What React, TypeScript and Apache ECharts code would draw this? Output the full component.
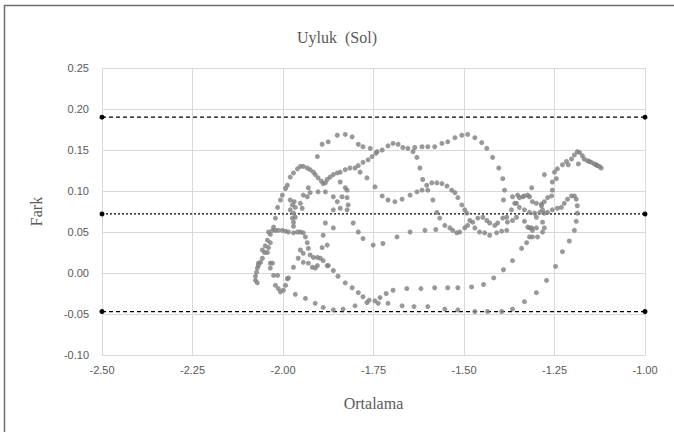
import React, { useEffect, useRef } from 'react';
import * as echarts from 'echarts';

type P = [number, number];

const xTickValues = [-2.5, -2.25, -2.0, -1.75, -1.5, -1.25, -1.0];
const yTickValues = [-0.1, -0.05, 0, 0.05, 0.1, 0.15, 0.2, 0.25];

const upperLoA = 0.19;
const meanDiff = 0.072;
const lowerLoA = -0.047;

const leftRise: P[] = [
  [-2.076, -0.009], [-2.071, -0.012], [-2.076, -0.004], [-2.073, 0.001], [-2.071, 0.006], [-2.068, 0.009],
  [-2.068, 0.012], [-2.062, 0.013], [-2.057, 0.018], [-2.051, 0.025], [-2.049, 0.033], [-2.043, 0.040],
  [-2.035, 0.047], [-2.026, 0.056], [-2.021, 0.067], [-2.015, 0.080], [-2.007, 0.089], [-2.002, 0.095],
  [-1.993, 0.103], [-1.988, 0.107], [-1.980, 0.117], [-1.971, 0.122], [-1.960, 0.127], [-1.952, 0.130],
  [-1.944, 0.130], [-1.933, 0.128], [-1.925, 0.126], [-1.916, 0.123], [-1.911, 0.120], [-1.903, 0.116],
  [-1.894, 0.112], [-1.889, 0.109], [-1.883, 0.110], [-1.878, 0.114], [-1.870, 0.117], [-1.861, 0.120],
  [-1.850, 0.122], [-1.842, 0.123], [-1.828, 0.126], [-1.815, 0.128], [-1.801, 0.128], [-1.792, 0.131],
  [-1.779, 0.135], [-1.765, 0.138], [-1.754, 0.142], [-1.743, 0.146],
];

const topArc: P[] = [
  [-1.905, 0.142], [-1.892, 0.157], [-1.875, 0.160], [-1.850, 0.168], [-1.828, 0.169], [-1.809, 0.166],
  [-1.792, 0.157], [-1.779, 0.154], [-1.759, 0.152], [-1.740, 0.148], [-1.726, 0.150], [-1.710, 0.155],
  [-1.696, 0.158], [-1.682, 0.157], [-1.669, 0.153], [-1.655, 0.152], [-1.641, 0.148], [-1.636, 0.153],
  [-1.616, 0.154], [-1.600, 0.154], [-1.581, 0.154], [-1.561, 0.158], [-1.545, 0.160], [-1.525, 0.165],
  [-1.506, 0.168], [-1.490, 0.169], [-1.470, 0.165], [-1.451, 0.159], [-1.437, 0.152], [-1.421, 0.141],
  [-1.404, 0.128], [-1.393, 0.115], [-1.388, 0.101], [-1.391, 0.089],
];

const topBranch: P[] = [
  [-1.630, 0.141], [-1.622, 0.128], [-1.614, 0.114], [-1.600, 0.101], [-1.586, 0.089], [-1.575, 0.074],
  [-1.567, 0.067],
];

const midArc: P[] = [
  [-1.787, 0.123], [-1.768, 0.116], [-1.746, 0.105], [-1.726, 0.094], [-1.710, 0.089], [-1.691, 0.087],
  [-1.671, 0.090], [-1.649, 0.095], [-1.630, 0.099], [-1.616, 0.101], [-1.603, 0.107], [-1.589, 0.110],
  [-1.575, 0.110], [-1.561, 0.109], [-1.547, 0.106], [-1.534, 0.101], [-1.525, 0.098], [-1.517, 0.092],
  [-1.506, 0.083], [-1.498, 0.077], [-1.492, 0.073], [-1.484, 0.064], [-1.470, 0.055],
];

const descArc: P[] = [
  [-1.842, 0.111], [-1.828, 0.104], [-1.823, 0.101], [-1.823, 0.092], [-1.820, 0.083], [-1.823, 0.077],
  [-1.806, 0.061], [-1.792, 0.050], [-1.779, 0.042], [-1.751, 0.034], [-1.724, 0.036], [-1.685, 0.044],
  [-1.649, 0.050], [-1.608, 0.052], [-1.578, 0.053],
];

const wiggle: P[] = [
  [-1.553, 0.058], [-1.539, 0.055], [-1.531, 0.052], [-1.520, 0.049], [-1.512, 0.050], [-1.498, 0.055],
  [-1.490, 0.058], [-1.476, 0.062], [-1.462, 0.067], [-1.448, 0.068], [-1.437, 0.064], [-1.429, 0.061],
  [-1.415, 0.058], [-1.407, 0.061], [-1.393, 0.067], [-1.380, 0.062], [-1.366, 0.064], [-1.355, 0.068],
  [-1.333, 0.063], [-1.313, 0.055],
];

const wiggleLow: P[] = [
  [-1.457, 0.050], [-1.443, 0.049], [-1.429, 0.046], [-1.410, 0.049], [-1.396, 0.051], [-1.382, 0.052],
];

const lowArc: P[] = [
  [-1.875, 0.009], [-1.861, 0.003], [-1.848, -0.004], [-1.828, -0.012], [-1.809, -0.018], [-1.792, -0.024],
  [-1.779, -0.029], [-1.762, -0.033], [-1.746, -0.034], [-1.732, -0.030], [-1.715, -0.025], [-1.696, -0.021],
  [-1.658, -0.019], [-1.619, -0.019], [-1.581, -0.018], [-1.545, -0.018], [-1.517, -0.018], [-1.479, -0.017],
  [-1.446, -0.014], [-1.418, -0.006], [-1.391, 0.004], [-1.366, 0.015], [-1.341, 0.030], [-1.327, 0.037],
  [-1.319, 0.044], [-1.311, 0.052], [-1.300, 0.068], [-1.283, 0.077],
];

const bottomArc: P[] = [
  [-1.966, -0.026], [-1.938, -0.031], [-1.911, -0.037], [-1.889, -0.042], [-1.861, -0.045], [-1.834, -0.044],
  [-1.801, -0.040], [-1.768, -0.036], [-1.737, -0.037], [-1.710, -0.037], [-1.671, -0.040], [-1.638, -0.041],
  [-1.600, -0.041], [-1.553, -0.044], [-1.517, -0.045], [-1.470, -0.047], [-1.435, -0.047], [-1.396, -0.047],
  [-1.366, -0.044], [-1.333, -0.035], [-1.300, -0.024], [-1.272, -0.009], [-1.247, 0.008], [-1.228, 0.026],
  [-1.209, 0.039], [-1.195, 0.052], [-1.190, 0.063], [-1.187, 0.073], [-1.187, 0.082], [-1.190, 0.090],
  [-1.195, 0.094], [-1.203, 0.094], [-1.214, 0.090], [-1.223, 0.085], [-1.231, 0.080], [-1.242, 0.079],
  [-1.256, 0.077], [-1.269, 0.074], [-1.278, 0.073], [-1.291, 0.074],
];

const leftLoop: P[] = [
  [-2.035, 0.037], [-2.040, 0.031], [-2.057, 0.028], [-2.043, 0.025], [-2.029, 0.012], [-2.035, 0.006],
  [-2.035, 0.012], [-2.026, -0.003], [-2.015, -0.003], [-2.021, -0.015], [-2.013, -0.019], [-2.007, -0.023],
  [-1.999, -0.021], [-1.993, -0.015], [-1.988, -0.007], [-1.985, -0.006], [-1.971, 0.007],
];

const leftWiggle: P[] = [
  [-2.040, 0.050], [-2.029, 0.052], [-2.021, 0.052], [-2.013, 0.052], [-2.002, 0.052], [-1.993, 0.051],
  [-1.985, 0.050], [-1.971, 0.049], [-1.960, 0.050], [-1.952, 0.050], [-1.944, 0.049], [-1.938, 0.044],
  [-1.933, 0.037], [-1.930, 0.030], [-1.925, 0.022], [-1.916, 0.019], [-1.905, 0.019], [-1.897, 0.018],
  [-1.889, 0.015], [-1.878, 0.009],
];

const leftCluster: P[] = [
  [-1.952, 0.028], [-1.958, 0.018], [-1.944, 0.013], [-1.930, 0.012], [-1.919, 0.007], [-1.911, 0.006],
  [-1.905, 0.009], [-1.892, 0.031], [-1.878, 0.034], [-1.889, 0.046], [-1.883, 0.061], [-1.861, 0.055],
  [-1.944, 0.024],
];

const columnCluster: P[] = [
  [-1.980, 0.089], [-1.974, 0.083], [-1.969, 0.087], [-1.980, 0.077], [-1.971, 0.073], [-1.974, 0.067],
  [-1.971, 0.062], [-1.971, 0.057], [-1.966, 0.080], [-1.952, 0.085], [-1.947, 0.079], [-1.944, 0.095],
  [-1.933, 0.093], [-1.925, 0.098], [-1.930, 0.104], [-1.966, 0.068], [-1.903, 0.099], [-1.883, 0.099],
  [-1.861, 0.093], [-1.850, 0.087], [-1.842, 0.079], [-1.861, 0.077], [-1.837, 0.093],
];

const rightTop: P[] = [
  [-1.256, 0.101], [-1.256, 0.111], [-1.250, 0.123], [-1.242, 0.127], [-1.228, 0.132], [-1.217, 0.136],
  [-1.212, 0.132], [-1.203, 0.139], [-1.195, 0.144], [-1.187, 0.148], [-1.181, 0.147], [-1.173, 0.143],
  [-1.168, 0.139], [-1.159, 0.137], [-1.154, 0.136], [-1.148, 0.135], [-1.140, 0.133], [-1.135, 0.132],
  [-1.132, 0.131], [-1.126, 0.130], [-1.121, 0.128], [-1.184, 0.133], [-1.278, 0.120], [-1.245, 0.115],
  [-1.313, 0.104],
];

const rightMid: P[] = [
  [-1.382, 0.068], [-1.369, 0.077], [-1.355, 0.085], [-1.347, 0.092], [-1.333, 0.094], [-1.319, 0.093],
  [-1.311, 0.087], [-1.300, 0.085], [-1.286, 0.084], [-1.278, 0.087], [-1.269, 0.092], [-1.258, 0.094],
  [-1.366, 0.093], [-1.352, 0.095], [-1.338, 0.093], [-1.324, 0.095], [-1.360, 0.085], [-1.347, 0.080],
  [-1.333, 0.077], [-1.319, 0.074], [-1.305, 0.073], [-1.286, 0.082],
];

const rightLow: P[] = [
  [-1.319, 0.055], [-1.300, 0.055], [-1.297, 0.044], [-1.311, 0.044], [-1.283, 0.062], [-1.278, 0.055],
  [-1.283, 0.050], [-1.324, 0.056],
];

const allPoints: P[] = [
  ...leftRise, ...topArc, ...topBranch, ...midArc, ...descArc, ...wiggle, ...wiggleLow, ...lowArc,
  ...bottomArc, ...leftLoop, ...leftWiggle, ...leftCluster, ...columnCluster, ...rightTop, ...rightMid,
  ...rightLow,
];

const GRAY_TEXT = '#595959';
const GRID = '#d9d9d9';
const SERIF = '"Liberation Serif", "DejaVu Serif", serif';
const SANS = '"Liberation Sans", Arial, sans-serif';

export default function App() {
  const ref = useRef<HTMLDivElement>(null);
  useEffect(() => {
    if (!ref.current) return;
    const chart = echarts.init(ref.current, undefined, { renderer: 'svg' });
    const xMin = xTickValues[0];
    const xMax = xTickValues[xTickValues.length - 1];
    const limit = (v: number, dash: number[], name: string) => ({
      name,
      type: 'line',
      data: [[xMin, v], [xMax, v]],
      symbol: 'circle',
      symbolSize: 5,
      itemStyle: { color: '#000' },
      lineStyle: { color: '#000', width: 1.2, type: dash },
      silent: true,
      z: 3,
    });
    chart.setOption({
      animation: false,
      backgroundColor: '#ffffff',
      title: {
        text: 'Uyluk  (Sol)',
        left: 'center',
        top: 24,
        textStyle: { fontFamily: SERIF, fontSize: 16, fontWeight: 'normal', color: GRAY_TEXT },
      },
      graphic: [
        {
          type: 'rect',
          shape: { x: 4.5, y: 5.5, width: 700, height: 500 },
          style: { fill: 'none', stroke: '#6e6e6e', lineWidth: 1.5 },
          silent: true,
        },
      ],
      grid: { left: 102, right: 29, top: 68, bottom: 77 },
      xAxis: {
        type: 'value',
        min: xMin,
        max: xMax,
        interval: 0.25,
        name: 'Ortalama',
        nameLocation: 'middle',
        nameGap: 40,
        nameTextStyle: { fontFamily: SERIF, fontSize: 16, color: GRAY_TEXT },
        axisLine: { show: true, lineStyle: { color: GRID, width: 1 } },
        axisTick: { show: false },
        axisLabel: {
          formatter: (v: number) => v.toFixed(2),
          color: GRAY_TEXT,
          fontSize: 11,
          fontFamily: SANS,
          margin: 9,
        },
        splitLine: { show: true, lineStyle: { color: GRID, width: 1 } },
      },
      yAxis: {
        type: 'value',
        min: yTickValues[0],
        max: yTickValues[yTickValues.length - 1],
        interval: 0.05,
        name: 'Fark',
        nameLocation: 'middle',
        nameGap: 58,
        nameTextStyle: { fontFamily: SERIF, fontSize: 16, color: GRAY_TEXT },
        axisLine: { show: true, lineStyle: { color: GRID, width: 1 } },
        axisTick: { show: false },
        axisLabel: {
          formatter: (v: number) => v.toFixed(2),
          color: GRAY_TEXT,
          fontSize: 11,
          fontFamily: SANS,
          margin: 13,
        },
        splitLine: { show: true, lineStyle: { color: GRID, width: 1 } },
      },
      series: [
        {
          name: 'Fark',
          type: 'scatter',
          data: allPoints,
          symbol: 'circle',
          symbolSize: 5,
          itemStyle: { color: '#808080' },
          z: 4,
        },
        limit(upperLoA, [4, 3], 'Üst sınır'),
        limit(meanDiff, [2, 2], 'Ortalama fark'),
        limit(lowerLoA, [4, 3], 'Alt sınır'),
      ],
    });
    return () => chart.dispose();
  }, []);
  return (
    <div
      ref={ref}
      style={{ position: 'fixed', left: 0, top: 0, width: 674, height: 432, background: '#fff' }}
    />
  );
}
